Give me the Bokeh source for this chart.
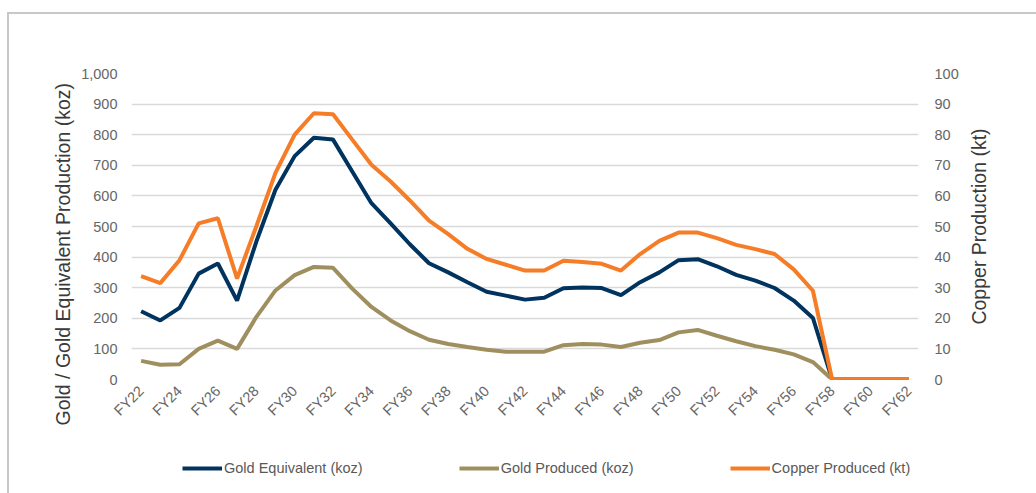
from math import pi
from bokeh.plotting import figure
from bokeh.layouts import column, row
from bokeh.models import (ColumnDataSource, Range1d, LinearAxis, FixedTicker,
                          NumeralTickFormatter, Legend, LegendItem, Title, Label)
from bokeh.embed import file_html
from bokeh.resources import INLINE

years = ["FY%d" % y for y in range(22, 63)]
gold_equivalent = [223, 193, 234, 346, 379, 258, 450, 620, 730, 790, 784, 680, 576, 510, 442,
                   380, 350, 318, 287, 274, 261, 267, 298, 301, 299, 276, 318, 350, 390, 393,
                   370, 342, 323, 299, 258, 201, 0, 0, 0, 0, 0]
gold_produced = [61, 48, 50, 100, 127, 100, 204, 291, 341, 368, 365, 297, 237, 193, 158,
                 130, 116, 106, 97, 91, 91, 91, 112, 116, 114, 106, 120, 129, 154, 162,
                 143, 125, 109, 97, 82, 57, 0, 0, 0, 0, 0]
copper_produced = [33.8, 31.5, 39, 51, 52.7, 33, 50, 67.5, 80, 87, 86.7, 78.4, 70.2, 64.7, 58.5,
                   51.9, 47.5, 42.7, 39.4, 37.5, 35.6, 35.6, 38.8, 38.4, 37.8, 35.6, 41, 45.3, 48, 48,
                   46.2, 44, 42.6, 41, 36, 29, 0, 0, 0, 0, 0]
series_names = ["Gold Equivalent (koz)", "Gold Produced (koz)", "Copper Produced (kt)"]
series_colors = ["#00335e", "#a08f5e", "#f67d27"]
left_ticks = list(range(0, 1001, 100))
right_ticks = list(range(0, 101, 10))

FONT = "Liberation Sans"
TICK_COLOR = "#666666"
TITLE_COLOR = "#3a3a3a"

idx = list(range(len(years)))
src = ColumnDataSource(dict(x=idx, ge=gold_equivalent, gp=gold_produced, cu=copper_produced))

MAIN_W = 959
p = figure(width=MAIN_W, height=426, x_range=Range1d(-0.5, len(years) - 0.5),
           y_range=Range1d(0, 1000), output_backend="svg", toolbar_location=None,
           min_border_left=122, min_border_right=50, min_border_top=59, min_border_bottom=61)
p.outline_line_color = None
p.extra_y_ranges = {"cu": Range1d(0, 100)}

p.line("x", "ge", source=src, line_color=series_colors[0], line_width=4)
p.line("x", "gp", source=src, line_color=series_colors[1], line_width=4)
p.line("x", "cu", source=src, line_color=series_colors[2], line_width=4, y_range_name="cu")

p.xgrid.grid_line_color = None
p.ygrid.grid_line_color = "#d9d9d9"
p.ygrid.grid_line_width = 1.5
p.ygrid.ticker = FixedTicker(ticks=left_ticks)


def style_axis(ax, standoff):
    ax.axis_line_color = None
    ax.major_tick_line_color = None
    ax.minor_tick_line_color = None
    ax.major_tick_out = 0
    ax.major_tick_in = 0
    ax.minor_tick_out = 0
    ax.minor_tick_in = 0
    ax.major_label_standoff = standoff
    ax.major_label_text_font = FONT
    ax.major_label_text_font_size = "14.5px"
    ax.major_label_text_color = TICK_COLOR


ya = p.yaxis[0]
ya.ticker = FixedTicker(ticks=left_ticks)
ya.formatter = NumeralTickFormatter(format="0,0")
style_axis(ya, 14)

ra = LinearAxis(y_range_name="cu", ticker=FixedTicker(ticks=right_ticks))
style_axis(ra, 16)
p.add_layout(ra, "right")

xa = p.xaxis[0]
xa.ticker = FixedTicker(ticks=idx[::2])
xa.major_label_overrides = {i: years[i] for i in idx[::2]}
style_axis(xa, 9)
xa.major_label_orientation = pi / 4

lt = Title(text="Gold / Gold Equivalent Production (koz)", align="left", offset=-46,
           text_font=FONT, text_font_size="19.5px", text_font_style="normal",
           text_color=TITLE_COLOR, standoff=10)
p.add_layout(lt, "left")

# legend strip below the chart (its frame is aligned with the chart's frame)
leg = figure(width=MAIN_W, height=53, x_range=Range1d(0, 1), y_range=Range1d(0, 1),
             x_axis_type=None, y_axis_type=None, output_backend="svg", toolbar_location=None,
             min_border_left=0, min_border_right=0, min_border_top=0, min_border_bottom=0)
leg.outline_line_color = None
leg.xgrid.visible = False
leg.ygrid.visible = False
items = []
for name, color in zip(series_names, series_colors):
    r = leg.line(x=[float("nan")], y=[float("nan")], line_color=color, line_width=4)
    items.append(LegendItem(label=name, renderers=[r]))
legend = Legend(items=items, orientation="horizontal", location=(51, 15),
                glyph_width=40, glyph_height=20, label_standoff=2, spacing=96,
                label_text_font=FONT, label_text_font_size="14.5px", label_text_color="#595959",
                border_line_color=None, background_fill_alpha=0, padding=0, margin=0)
leg.add_layout(legend)

# strip on the right holding the secondary axis title (reads bottom-to-top)
SIDE_W = 68
side = figure(width=SIDE_W, height=479, x_range=Range1d(0, 1), y_range=Range1d(0, 1),
              x_axis_type=None, y_axis_type=None, output_backend="svg", toolbar_location=None,
              min_border_left=0, min_border_right=0, min_border_top=59, min_border_bottom=114)
side.outline_line_color = None
side.xgrid.visible = False
side.ygrid.visible = False
side.add_layout(Label(x=10.5 / SIDE_W, y=0.5, angle=pi / 2, text="Copper Production (kt)",
                      text_align="center", text_baseline="middle", text_font=FONT,
                      text_font_size="19.5px", text_color=TITLE_COLOR))

layout = row(column(p, leg, spacing=0), side, spacing=0, margin=(12, 0, 0, 7),
             styles={"border-top": "2px solid #c8c8c8", "border-left": "2px solid #c8c8c8"})
open("out.html", "w").write(file_html(layout, INLINE))
